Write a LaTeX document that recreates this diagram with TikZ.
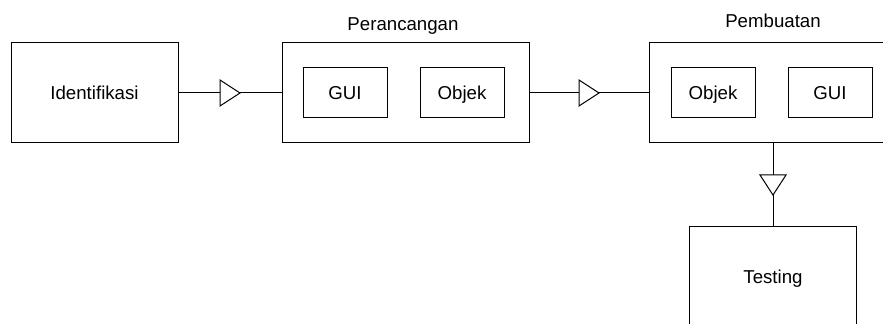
\documentclass[tikz,border=0pt]{standalone}
\usepackage{fontspec}
\setmainfont{Liberation Sans}
\usetikzlibrary{decorations.markings}
\begin{document}
\begin{tikzpicture}[x=0.75pt,y=-0.75pt,line width=0.75pt,
  txt/.style={font=\fontsize{14}{16}\selectfont},
  box/.style={draw,rectangle,inner sep=0pt,txt,text height=10pt,text depth=0pt},
  bigbox/.style={box,minimum width=125.25pt,minimum height=75pt},
  outerbox/.style={box,minimum width=185.25pt,minimum height=75pt},
  innerbox/.style={box,minimum width=63pt,minimum height=37.5pt},
  flow/.style={draw,postaction={decorate},decoration={markings,
    mark=at position 0.5 with {\draw[fill=white,line width=0.75pt] (-7.5pt,-9.75pt) -- (7.5pt,0pt) -- (-7.5pt,9.75pt) -- cycle;}}}]
\useasboundingbox (0,0) rectangle (883,324);
\clip (0,0) rectangle (883,324);
\node[bigbox] (ident) at (94.5,93) {Identifikasi};
\node[outerbox] (peran) at (405.5,93) {};
\node[innerbox] (pgui) at (345,93) {GUI};
\node[innerbox] (pobj) at (462,93) {Objek};
\node[txt,anchor=base] (peranlbl) at (403,31) {Perancangan};
\node[outerbox] (pemb) at (772.5,93) {};
\node[innerbox] (bobj) at (713,93) {Objek};
\node[innerbox] (bgui) at (830,93) {GUI};
\node[txt,anchor=base] (pemblbl) at (773,28) {Pembuatan};
\node[bigbox] (test) at (773,277) {Testing};
\path[flow] (ident.east) -- (peran.west);
\path[flow] (peran.east) -- (pemb.west);
\path[flow] (pemb.south -| test.north) -- (test.north);
\end{tikzpicture}
\end{document}
